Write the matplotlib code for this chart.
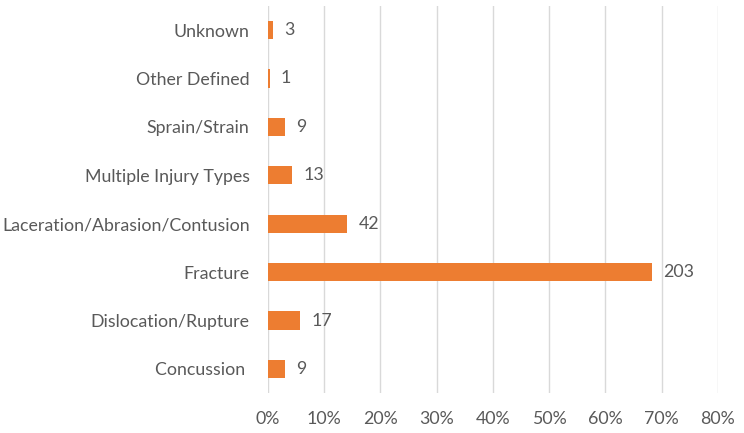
import matplotlib
matplotlib.use("Agg")
import matplotlib.pyplot as plt
from matplotlib.ticker import PercentFormatter

# injury types, bottom to top as drawn
categories = ["Concussion ", "Dislocation/Rupture", "Fracture",
              "Laceration/Abrasion/Contusion", "Multiple Injury Types",
              "Sprain/Strain", "Other Defined", "Unknown"]
counts = [9, 17, 203, 42, 13, 9, 1, 3]
x_ticks = [0, 0.1, 0.2, 0.3, 0.4, 0.5, 0.6, 0.7, 0.8]

total = sum(counts)
shares = [c / total for c in counts]

TEXT = "#595959"
plt.rcParams['font.family'] = ['Lato', 'DejaVu Sans']

fig = plt.figure(figsize=(7.44, 4.33), dpi=100)
ax = fig.add_axes([0.3598, 0.0919, 0.6052, 0.8947])

ypos = range(len(categories))
ax.barh(ypos, shares, height=0.38, color="#ED7D31", zorder=3)

for y, s, c in zip(ypos, shares, counts):
    ax.annotate(str(c), (s, y), xytext=(8, 0), textcoords="offset points",
                va="center", ha="left", fontsize=12.8, color=TEXT)

ax.set_xlim(0, 0.8)
ax.set_ylim(-0.5, len(categories) - 0.5)
ax.set_xticks(x_ticks)
ax.xaxis.set_major_formatter(PercentFormatter(1.0, decimals=0))
ax.set_yticks(list(ypos))
ax.set_yticklabels(categories)

ax.grid(axis="x", color="#D9D9D9", linewidth=1, zorder=0)
for sp in ax.spines.values():
    sp.set_visible(False)
ax.tick_params(axis="both", length=0, labelsize=12.8, colors=TEXT)
ax.tick_params(axis="x", pad=13)
ax.tick_params(axis="y", pad=13)

fig.savefig("out.png", dpi=100)
plt.close(fig)
